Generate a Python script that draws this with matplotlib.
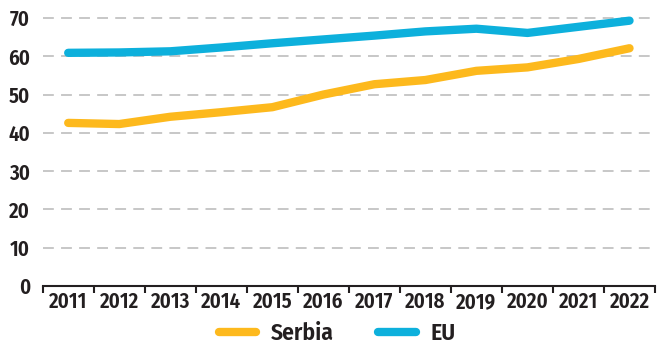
import numpy as np
import matplotlib.pyplot as plt
from matplotlib.ticker import FixedLocator

years = ['2011', '2012', '2013', '2014', '2015', '2016',
         '2017', '2018', '2019', '2020', '2021', '2022']
serbia = [42.6, 42.3, 44.2, 45.4, 46.7, 50.0, 52.7, 53.8, 56.2, 57.1, 59.3, 62.1]
eu = [60.9, 61.0, 61.3, 62.3, 63.4, 64.4, 65.4, 66.5, 67.2, 66.1, 67.7, 69.3]
yticks = [0, 10, 20, 30, 40, 50, 60, 70]

plt.rcParams['font.family'] = ['Fira Sans Condensed', 'DejaVu Sans']
text_color = '#231f20'

fig = plt.figure(figsize=(6.57, 3.47), dpi=100)
ax = fig.add_axes([0.065, 0.1758, 0.932, 0.8242])

x = np.arange(len(years))
ax.plot(x, serbia, color='#fdb91d', lw=6, solid_capstyle='round',
        solid_joinstyle='round', label='Serbia', zorder=3)
ax.plot(x, eu, color='#0db0dc', lw=6, solid_capstyle='round',
        solid_joinstyle='round', label='EU', zorder=3)

ax.set_xlim(-0.5, len(years) - 0.5)
ax.set_ylim(0, 74.7)

# dashed horizontal grid
for v in yticks[1:]:
    ax.axhline(v, color='#c3c3c3', lw=1.3, dashes=(6, 4), zorder=1)

for s in ['left', 'right', 'top']:
    ax.spines[s].set_visible(False)
ax.spines['bottom'].set_color(text_color)
ax.spines['bottom'].set_linewidth(1.5)

ax.set_yticks(yticks)
ax.set_yticklabels([str(v) for v in yticks])
ax.tick_params(axis='y', length=0, pad=9, labelsize=15, labelcolor=text_color)

ax.set_xticks(x)
ax.set_xticklabels(years)
ax.tick_params(axis='x', which='major', length=0, pad=4, labelsize=15,
               labelcolor=text_color)
ax.xaxis.set_minor_locator(FixedLocator(np.arange(-0.5, len(years), 1.0)))
ax.tick_params(axis='x', which='minor', length=5, width=1.5, color=text_color)

for lbl in ax.get_xticklabels() + ax.get_yticklabels():
    lbl.set_fontweight('semibold')

leg = fig.legend(loc='center', bbox_to_anchor=(0.513, 0.04), ncol=2,
                 frameon=False, fontsize=17, handlelength=1.6,
                 columnspacing=1.9, handletextpad=0.6,
                 borderpad=0, borderaxespad=0)
for t in leg.get_texts():
    t.set_fontweight('semibold')
    t.set_color(text_color)

fig.savefig('out.png', dpi=100)
